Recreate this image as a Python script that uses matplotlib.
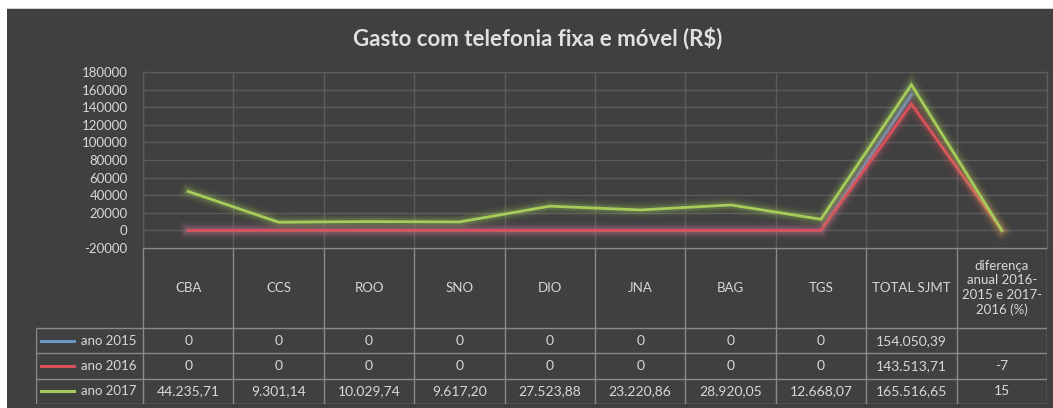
import numpy as np
import matplotlib
matplotlib.use("Agg")
import matplotlib.pyplot as plt
import matplotlib.patheffects as pe
from matplotlib.patches import Rectangle

# ---- data ----
title = "Gasto com telefonia fixa e móvel (R$)"
categories = ["CBA", "CCS", "ROO", "SNO", "DIO", "JNA", "BAG", "TGS", "TOTAL SJMT",
              "diferença\nanual 2016-\n2015 e 2017-\n2016 (%)"]
series_names = ["ano 2015", "ano 2016", "ano 2017"]
ano_2015 = [0, 0, 0, 0, 0, 0, 0, 0, 154050.39, None]
ano_2016 = [0, 0, 0, 0, 0, 0, 0, 0, 143513.71, -7]
ano_2017 = [44235.71, 9301.14, 10029.74, 9617.20, 27523.88, 23220.86, 28920.05, 12668.07, 165516.65, 15]
yticks = [-20000, 0, 20000, 40000, 60000, 80000, 100000, 120000, 140000, 160000, 180000]
series_colors = ["#6b95c4", "#d9505a", "#a6cc5a"]

# ---- style ----
W, H = 1053, 408
BG = "#404040"
GRID = "#5c5c5c"
TLINE = "#8a8a8a"
TXT = "#d8d8d8"
FONT = "Lato"
plt.rcParams["font.family"] = [FONT, "DejaVu Sans"]


def fmt_br(v):
    if v is None:
        return ""
    if v == 0:
        return "0"
    if float(v).is_integer() and abs(v) < 1000:
        return str(int(v))
    s = f"{v:,.2f}"
    return s.replace(",", "X").replace(".", ",").replace("X", ".")


fig = plt.figure(figsize=(W / 100, H / 100), dpi=100, facecolor="white")
fig.patches.append(Rectangle((7 / W, 0), 1 - 7 / W, (H - 8) / H, transform=fig.transFigure,
                             facecolor=BG, edgecolor="none", zorder=-10))
fig.patches.append(Rectangle((7 / W, (H - 9) / H), 1 - 7 / W, 1 / H, transform=fig.transFigure,
                             facecolor="#d0d0d0", edgecolor="none", zorder=-9))

px_left, px_right = 143, 1047
col_w = (px_right - px_left) / len(categories)

# main plot axes
ax = fig.add_axes([px_left / W, (H - 248) / H, (px_right - px_left) / W, (248 - 72) / H])
ax.set_facecolor("none")
ax.set_xlim(-0.5, len(categories) - 0.5)
ax.set_ylim(yticks[0], yticks[-1])
ax.set_yticks(yticks)
ax.set_yticklabels([str(t) for t in yticks])
ax.set_xticks(np.arange(-0.5, len(categories), 1.0))
ax.set_xticklabels([])
ax.tick_params(axis="both", length=0, colors=TXT, labelsize=9.5, pad=11)
ax.grid(True, color=GRID, linewidth=1)
for s in ax.spines.values():
    s.set_color(GRID)
    s.set_linewidth(1)

x = np.arange(len(categories))
for name, vals, c in zip(series_names, [ano_2015, ano_2016, ano_2017], series_colors):
    y = np.array([np.nan if v is None else v for v in vals], dtype=float)
    ax.plot(x, y, color=c, linewidth=2.0, zorder=3, solid_joinstyle="miter",
            path_effects=[pe.Stroke(linewidth=12, foreground=c, alpha=0.06),
                          pe.Stroke(linewidth=8, foreground=c, alpha=0.10),
                          pe.Stroke(linewidth=5, foreground=c, alpha=0.18),
                          pe.Normal()])

fig.text(538 / W, 1 - 38 / H, title, ha="center", va="center", color="#e0e0e0",
         fontsize=16, fontweight="bold")

# table axes
row_h = (404 - 328) / 3
hdr_h = (328 - 248) / row_h
L = (px_left - 36) / col_w
tax = fig.add_axes([36 / W, (H - 404) / H, (px_right - 36) / W, (404 - 248) / H])
tax.set_xlim(-0.5 - L, len(categories) - 0.5)
tax.set_ylim(3, -hdr_h)
tax.axis("off")
tax.set_facecolor("none")

lw = 1.0
tax.hlines(-hdr_h, -0.5, len(categories) - 0.5, color=TLINE, lw=lw)
for r in range(4):
    tax.hlines(r, -0.5 - L, len(categories) - 0.5, color=TLINE, lw=lw)
tax.vlines(-0.5 - L, 0, 3, color=TLINE, lw=lw)
for b in np.arange(-0.5, len(categories), 1.0):
    tax.vlines(b, -hdr_h, 3, color=TLINE, lw=lw)

for i, cat in enumerate(categories):
    tax.text(i, -hdr_h / 2, cat, ha="center", va="center", color=TXT, fontsize=9.5,
             linespacing=1.25)

for r, (name, vals, c) in enumerate(zip(series_names, [ano_2015, ano_2016, ano_2017], series_colors)):
    yc = r + 0.5
    tax.plot([-0.5 - L + 0.05, -0.5 - L + 0.42], [yc, yc], color=c, lw=2.2)
    tax.text(-0.5 - 0.07, yc, name, ha="right", va="center", color=TXT, fontsize=9.5)
    for i, v in enumerate(vals):
        tax.text(i, yc, fmt_br(v), ha="center", va="center", color=TXT, fontsize=10)

fig.savefig("out.png", dpi=100, facecolor="white")
